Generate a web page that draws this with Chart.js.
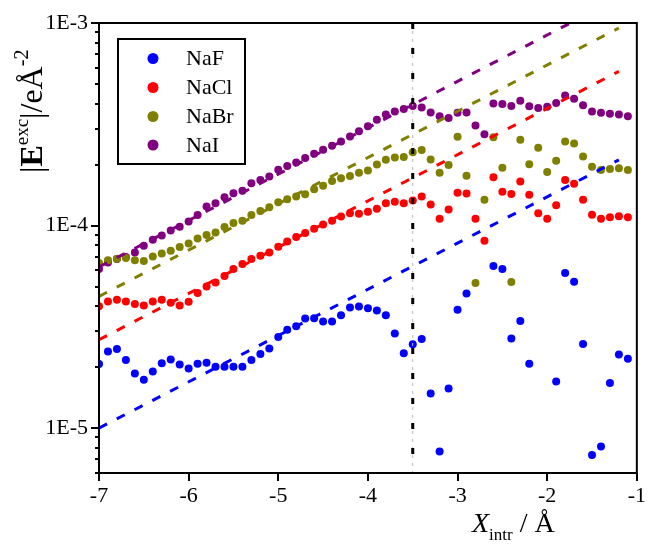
<!DOCTYPE html>
<html><head><meta charset="utf-8">
<script src="https://cdn.jsdelivr.net/npm/chart.js@4/dist/chart.umd.min.js"></script>
<style>html,body{margin:0;padding:0;background:#fff}#wrap{width:648px;height:545px}</style>
</head><body><div id="wrap"><canvas id="c" width="648" height="545"></canvas></div>
<script>
// ---- data ----
const xValues = [-7.0,-6.9,-6.8,-6.7,-6.6,-6.5,-6.4,-6.3,-6.2,-6.1,
  -6.0,-5.9,-5.8,-5.7,-5.6,-5.5,-5.4,-5.3,-5.2,-5.1,
  -5.0,-4.9,-4.8,-4.7,-4.6,-4.5,-4.4,-4.3,-4.2,-4.1,
  -4.0,-3.9,-3.8,-3.7,-3.6,-3.5,-3.4,-3.3,-3.2,-3.1,
  -3.0,-2.9,-2.8,-2.7,-2.6,-2.5,-2.4,-2.3,-2.2,-2.1,
  -2.0,-1.9,-1.8,-1.7,-1.6,-1.5,-1.4,-1.3,-1.2,-1.1];
const naF = [2.07e-5,2.39e-5,2.46e-5,2.17e-5,1.86e-5,1.73e-5,1.90e-5,2.09e-5,2.18e-5,2.06e-5,
  1.97e-5,2.08e-5,2.10e-5,2.01e-5,2.01e-5,2.01e-5,2.01e-5,2.17e-5,2.32e-5,2.47e-5,
  2.82e-5,3.06e-5,3.18e-5,3.48e-5,3.49e-5,3.36e-5,3.36e-5,3.61e-5,3.94e-5,3.98e-5,
  3.90e-5,3.81e-5,3.61e-5,2.93e-5,2.34e-5,2.59e-5,2.75e-5,1.48e-5,7.66e-6,1.57e-5,
  3.84e-5,4.62e-5,null,null,6.31e-5,6.10e-5,2.77e-5,3.38e-5,2.08e-5,null,
  null,1.70e-5,5.83e-5,5.28e-5,2.60e-5,7.36e-6,8.11e-6,1.67e-5,2.31e-5,2.20e-5];
const naCl = [3.99e-5,4.22e-5,4.30e-5,4.22e-5,4.10e-5,4.03e-5,4.22e-5,4.30e-5,4.16e-5,4.03e-5,
  4.21e-5,4.64e-5,5.00e-5,5.24e-5,5.63e-5,6.10e-5,6.45e-5,6.83e-5,7.10e-5,7.37e-5,
  7.86e-5,8.34e-5,8.77e-5,9.18e-5,9.64e-5,1.013e-4,1.057e-4,1.107e-4,1.151e-4,1.144e-4,
  1.17e-4,1.21e-4,1.29e-4,1.31e-4,1.29e-4,1.33e-4,1.39e-4,1.27e-4,1.08e-4,1.20e-4,
  1.45e-4,1.44e-4,1.08e-4,8.41e-5,1.73e-4,1.47e-4,1.43e-4,1.65e-4,1.42e-4,1.15e-4,
  1.08e-4,1.26e-4,1.68e-4,1.61e-4,1.34e-4,1.13e-4,1.08e-4,1.10e-4,1.11e-4,1.10e-4];
const naBr = [6.53e-5,6.73e-5,6.86e-5,6.91e-5,6.73e-5,6.68e-5,7.04e-5,7.28e-5,7.51e-5,7.83e-5,
  8.16e-5,8.64e-5,8.98e-5,9.25e-5,9.83e-5,1.029e-4,1.057e-4,1.128e-4,1.180e-4,1.232e-4,
  1.303e-4,1.349e-4,1.390e-4,1.428e-4,1.511e-4,1.570e-4,1.661e-4,1.714e-4,1.758e-4,1.82e-4,
  1.87e-4,2.00e-4,2.11e-4,2.17e-4,2.18e-4,2.30e-4,2.36e-4,2.12e-4,1.82e-4,1.99e-4,
  2.74e-4,1.76e-4,5.20e-5,1.34e-4,2.73e-4,1.93e-4,5.26e-5,2.65e-4,2.01e-4,2.42e-4,
  1.84e-4,2.09e-4,2.60e-4,2.54e-4,2.19e-4,1.95e-4,1.88e-4,1.90e-4,1.92e-4,1.88e-4];
const naI = [6.10e-5,6.57e-5,6.83e-5,6.99e-5,7.37e-5,7.95e-5,8.51e-5,8.94e-5,9.46e-5,9.86e-5,
  1.047e-4,1.128e-4,1.240e-4,1.289e-4,1.380e-4,1.445e-4,1.483e-4,1.618e-4,1.680e-4,1.746e-4,
  1.884e-4,1.970e-4,2.046e-4,2.153e-4,2.259e-4,2.366e-4,2.474e-4,2.60e-4,2.75e-4,2.92e-4,
  3.09e-4,3.33e-4,3.53e-4,3.66e-4,3.76e-4,3.89e-4,3.83e-4,3.62e-4,3.46e-4,3.40e-4,
  3.60e-4,3.62e-4,3.12e-4,2.82e-4,4.01e-4,3.98e-4,3.89e-4,4.13e-4,3.88e-4,3.80e-4,
  3.86e-4,4.03e-4,4.39e-4,4.23e-4,3.92e-4,3.66e-4,3.60e-4,3.56e-4,3.53e-4,3.46e-4];
const seriesNames = ['NaF','NaCl','NaBr','NaI'];
const seriesColors = ['#0000ff','#ff0000','#808000','#800080'];
// fitted power-law lines: values at x = fitX[0] and fitX[1]
const fitX = [-7.0, -1.2];
const fitNaF = [1.0e-5, 2.11e-4];
const fitNaCl = [2.73e-5, 5.77e-4];
const fitNaBr = [4.47e-5, 9.45e-4];
const fitNaI = [6.25e-5, 1.33e-3];
const markerX = -3.5;
const xRange = [-7, -1];
const yRange = [6e-6, 1e-3];
const xTicks = [-7,-6,-5,-4,-3,-2,-1];
const xTickLabels = ['-7','-6','-5','-4','-3','-2','-1'];
const yMajorTicks = [1e-5, 1e-4, 1e-3];
const yTickLabels = ['1E-5','1E-4','1E-3'];

// ---- build datasets ----
const serif = "'Liberation Serif','Times New Roman',serif";
const allSeries = [naF, naCl, naBr, naI];
const allFits = [fitNaF, fitNaCl, fitNaBr, fitNaI];
const pts = s => xValues.map((x,i)=>({x:x, y:s[i]})).filter(p=>p.y!==null);
const datasets = [];
datasets.push({label:'marker-black', data:[{x:markerX,y:yRange[1]},{x:markerX,y:yRange[0]}],
  showLine:true, borderColor:'#000', borderWidth:3, borderDash:[6,19], pointRadius:0, order:0});
datasets.push({label:'marker-grey', data:[{x:markerX,y:yRange[1]},{x:markerX,y:yRange[0]}],
  showLine:true, borderColor:'#b8b8b8', borderWidth:1, borderDash:[3,5], pointRadius:0, order:1});
allFits.forEach((f,i)=>datasets.push({label:'fit '+seriesNames[i],
  data:fitX.map((x,j)=>({x:x,y:f[j]})), showLine:true, borderColor:seriesColors[i],
  borderWidth:3, borderDash:[9,11], pointRadius:0, order:2}));
allSeries.forEach((s,i)=>datasets.push({label:seriesNames[i], data:pts(s), showLine:false,
  backgroundColor:seriesColors[i], borderColor:seriesColors[i], pointRadius:4, pointBorderWidth:0,
  pointHoverRadius:4, order:3}));

function drawRuns(ctx, runs, x, y){
  let cx = x;
  runs.forEach(r=>{ ctx.font = r.font; ctx.fillText(r.t, cx, y + (r.dy||0)); cx += ctx.measureText(r.t).width + (r.gap||0); });
}

const decor = {
  id:'decor',
  afterDatasetsDraw(chart){
    const ctx = chart.ctx, a = chart.chartArea;
    const xs = chart.scales.x, ys = chart.scales.y;
    ctx.save();
    ctx.strokeStyle = '#000'; ctx.lineWidth = 2;
    ctx.strokeRect(a.left, a.top, a.right - a.left, a.bottom - a.top);
    // y ticks (major + minor), outward
    for (let e = -6; e <= -3; e++) {
      for (let m = 1; m <= 9; m++) {
        const v = m * Math.pow(10, e);
        if (v < yRange[0]*0.999 || v > yRange[1]*1.001) continue;
        const py = Math.round(ys.getPixelForValue(v));
        const len = (m === 1) ? 8 : 4;
        ctx.beginPath(); ctx.moveTo(a.left, py); ctx.lineTo(a.left - len, py); ctx.stroke();
      }
    }
    xTicks.forEach(v=>{
      const px = Math.round(xs.getPixelForValue(v));
      ctx.beginPath(); ctx.moveTo(px, a.bottom); ctx.lineTo(px, a.bottom + 8); ctx.stroke();
    });
    // legend
    ctx.fillStyle = '#fff';
    ctx.fillRect(118, 39, 127, 125);
    ctx.strokeStyle = '#000'; ctx.lineWidth = 2;
    ctx.strokeRect(118, 39, 127, 125);
    const rows = [58.5, 87.5, 116.5, 145];
    ctx.textBaseline = 'middle'; ctx.textAlign = 'left';
    seriesNames.forEach((n,i)=>{
      ctx.fillStyle = seriesColors[i];
      ctx.beginPath(); ctx.arc(153, rows[i], 5.5, 0, Math.PI*2); ctx.fill();
      ctx.fillStyle = '#000'; ctx.font = '22px ' + serif;
      ctx.fillText(n, 186, rows[i] + 1);
    });
    // axis titles
    ctx.textBaseline = 'alphabetic';
    ctx.fillStyle = '#000';
    drawRuns(ctx, [
      {t:'X', font:'italic 28px ' + serif},
      {t:'intr', font:'17px ' + serif, dy:8},
      {t:' / Å', font:'28px ' + serif}
    ], 472, 532);
    ctx.save();
    ctx.translate(42, 173);
    ctx.rotate(-Math.PI/2);
    drawRuns(ctx, [
      {t:'|', font:'32px ' + serif},
      {t:'E', font:'bold 32px ' + serif},
      {t:'exc', font:'19px ' + serif, dy:-14},
      {t:'|', font:'32px ' + serif},
      {t:'/eÅ', font:'32px ' + serif},
      {t:'-2', font:'20px ' + serif, dy:-14}
    ], 0, 0);
    ctx.restore();
    ctx.restore();
  }
};

new Chart(document.getElementById('c').getContext('2d'), {
  type:'scatter',
  data:{datasets:datasets},
  options:{
    responsive:false, animation:false, devicePixelRatio:1,
    layout:{padding:{left:0, right:9, top:23, bottom:0}},
    plugins:{legend:{display:false}, tooltip:{enabled:false}},
    events:[],
    scales:{
      x:{type:'linear', min:xRange[0], max:xRange[1],
        afterBuildTicks(ax){ ax.ticks = xTicks.map(v=>({value:v})); },
        afterFit(s){ s.height = 72; },
        grid:{display:true, drawOnChartArea:false, drawTicks:true, tickLength:8, color:'rgba(0,0,0,0)'},
        border:{display:false},
        ticks:{font:{family:serif, size:22}, color:'#000', padding:2, maxRotation:0, autoSkip:false,
          callback:(v)=>{ const i = xTicks.indexOf(v); return i>=0 ? xTickLabels[i] : ''; }}
      },
      y:{type:'logarithmic', min:yRange[0], max:yRange[1],
        afterBuildTicks(ax){ ax.ticks = yMajorTicks.map(v=>({value:v})); },
        afterFit(s){ s.width = 99; },
        grid:{display:true, drawOnChartArea:false, drawTicks:true, tickLength:8, color:'rgba(0,0,0,0)'},
        border:{display:false},
        ticks:{font:{family:serif, size:22}, color:'#000', padding:3, autoSkip:false,
          callback:(v)=>{ const i = yMajorTicks.indexOf(v); return i>=0 ? yTickLabels[i] : ''; }}
      }
    }
  },
  plugins:[decor]
});
</script></body></html>
